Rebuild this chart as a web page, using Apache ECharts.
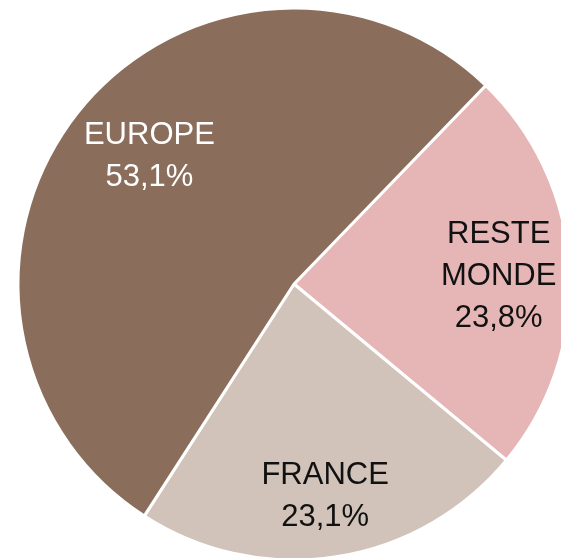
<!DOCTYPE html>
<html>
<head>
<meta charset="utf-8">
<script src="https://cdn.jsdelivr.net/npm/echarts@6/dist/echarts.min.js"></script>
<style>
  html, body { margin: 0; padding: 0; background: #fff; }
  #main { width: 561px; height: 558px; }
</style>
</head>
<body>
<div id="main"></div>
<script>
// données du graphique
const categories = ['RESTE\nMONDE', 'FRANCE', 'EUROPE'];
const values = [23.8, 23.1, 53.1];
const colors = ['#E6B6B6', '#D1C3B9', '#8A6D5B'];
const labelColors = ['#111111', '#111111', '#ffffff'];
const labelShift = [[0, 4], [0, 10], [16, 0]];

const chart = echarts.init(document.getElementById('main'));

const pieData = categories.map((name, i) => ({
  name: name,
  value: values[i],
  itemStyle: { color: colors[i] }
}));

const labelData = categories.map((name, i) => ({
  name: name,
  value: values[i],
  label: { color: labelColors[i], offset: labelShift[i] }
}));

const option = {
  animation: false,
  series: [
    {
      type: 'pie',
      center: [294, 284],
      radius: [0, 276],
      startAngle: 46,
      clockwise: true,
      silent: true,
      itemStyle: { borderColor: '#ffffff', borderWidth: 3 },
      label: { show: false },
      labelLine: { show: false },
      data: pieData
    },
    {
      // série transparente pour placer les étiquettes plus loin du centre
      type: 'pie',
      center: [294, 284],
      radius: [128, 276],
      startAngle: 46,
      clockwise: true,
      silent: true,
      itemStyle: { color: 'rgba(0,0,0,0)' },
      labelLine: { show: false },
      label: {
        show: true,
        position: 'inside',
        fontFamily: '"Liberation Sans Narrow", "Arial Narrow", "Liberation Sans", sans-serif',
        fontSize: 31,
        lineHeight: 42,
        formatter: (p) => p.name + '\n' + p.value.toFixed(1).replace('.', ',') + '%'
      },
      data: labelData
    }
  ]
};

chart.setOption(option);
</script>
</body>
</html>
